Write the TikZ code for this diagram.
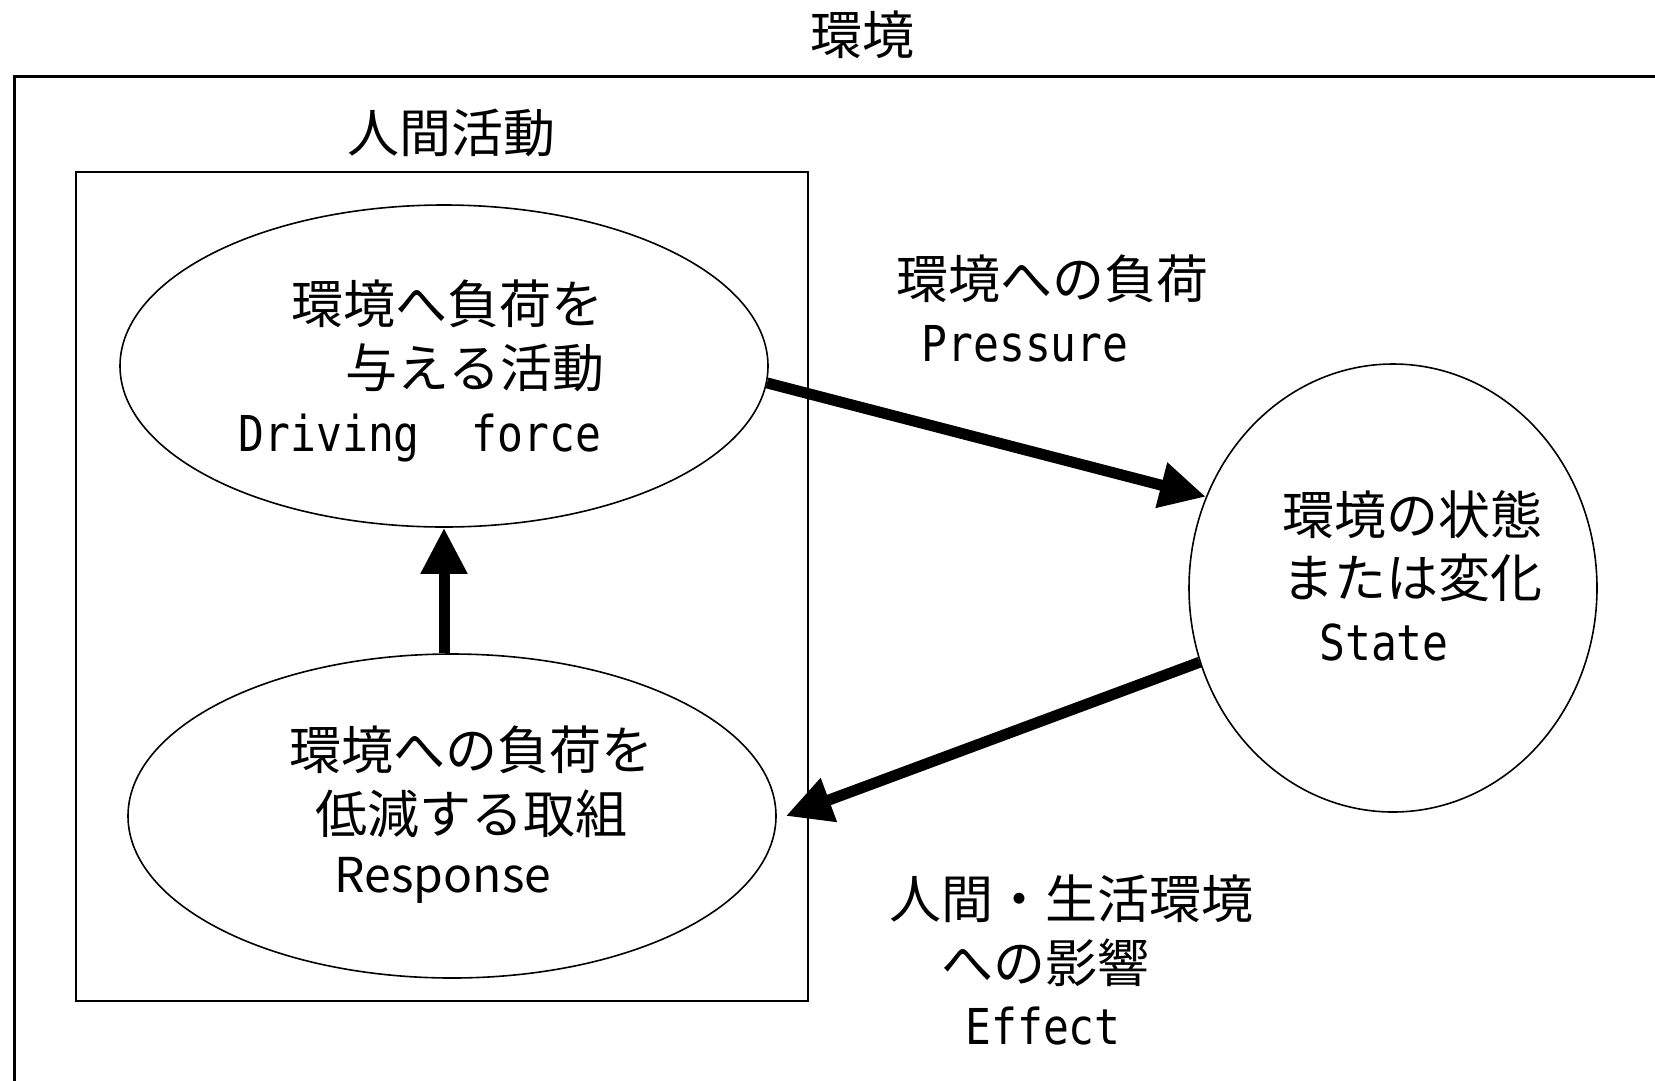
\documentclass[tikz,border=0pt]{standalone}
\usepackage{fontspec}
\usepackage{graphicx}
\setmainfont{Noto Sans CJK JP}
\newfontfamily\latinmono{DejaVu Sans Mono}
\newcommand{\tallmono}[1]{\scalebox{1}[1.15]{\latinmono\fontsize{43}{50}\selectfont #1}}
\usetikzlibrary{arrows.meta,shapes.geometric}
\tikzset{
  ell/.style={ellipse, draw, line width=1.6pt, inner sep=0pt},
  jp/.style={font=\fontsize{52}{60}\selectfont, inner sep=0pt, text height=45pt, text depth=5pt},
  en/.style={inner sep=0pt, text height=36pt, text depth=0pt},
  enprop/.style={font=\fontsize{48}{56}\selectfont, inner sep=0pt, text height=32pt, text depth=0pt},
  bigarrow/.style={line width=11pt, -{Triangle[length=46pt,width=44pt]}},
}
\begin{document}
\begin{tikzpicture}[x=1pt,y=-1pt]
\clip (0,0) rectangle (1655,1080);
\fill[white] (0,0) rectangle (1655,1080);
% outer environment box
\node[draw, line width=2.5pt, minimum width=1700pt, minimum height=1100pt, anchor=north west, inner sep=0pt] (env) at (13,75) {};
\node[jp] (envlabel) at (862,34) {環境};
% human activity box
\node[draw, line width=2pt, minimum width=732pt, minimum height=829pt, anchor=north west, inner sep=0pt] (human) at (75,171) {};
\node[jp] (humanlabel) at (451,132) {人間活動};
% ellipses
\node[ell, minimum width=648pt, minimum height=322pt] (drive) at (444,366) {};
\node[ell, minimum width=648pt, minimum height=324pt] (resp) at (452,816) {};
\node[ell, minimum width=408pt, minimum height=448pt] (state) at (1393,588) {};
% texts in ellipses
\node[jp] (d1) at (447,303) {環境へ負荷を};
\node[jp] (d2) at (475,367) {与える活動};
\node[en] (d3) at (420,433) {\tallmono{Driving\hspace{52pt}force}};
\node[jp] (r1) at (471,749) {環境への負荷を};
\node[jp] (r2) at (471,813) {低減する取組};
\node[enprop] (r3) at (443,876) {Response};
\node[jp] (s1) at (1412,514) {環境の状態};
\node[jp] (s2) at (1412,577) {または変化};
\node[en] (s3) at (1384,642) {\tallmono{State}};
% arrow labels
\node[jp] (p1) at (1052,278) {環境への負荷};
\node[en] (p2) at (1025,343) {\tallmono{Pressure}};
\node[jp] (e1) at (1071,898) {人間・生活環境};
\node[jp] (e2) at (1045,962) {への影響};
\node[en] (e3) at (1043,1026) {\tallmono{Effect}};
% arrows
\draw[bigarrow] (drive.-3) -- (state.154);
\draw[bigarrow] (state.201) -- ([xshift=9pt]resp.east);
\draw[bigarrow] (drive.south |- resp.north) -- (drive.south);
\end{tikzpicture}
\end{document}
